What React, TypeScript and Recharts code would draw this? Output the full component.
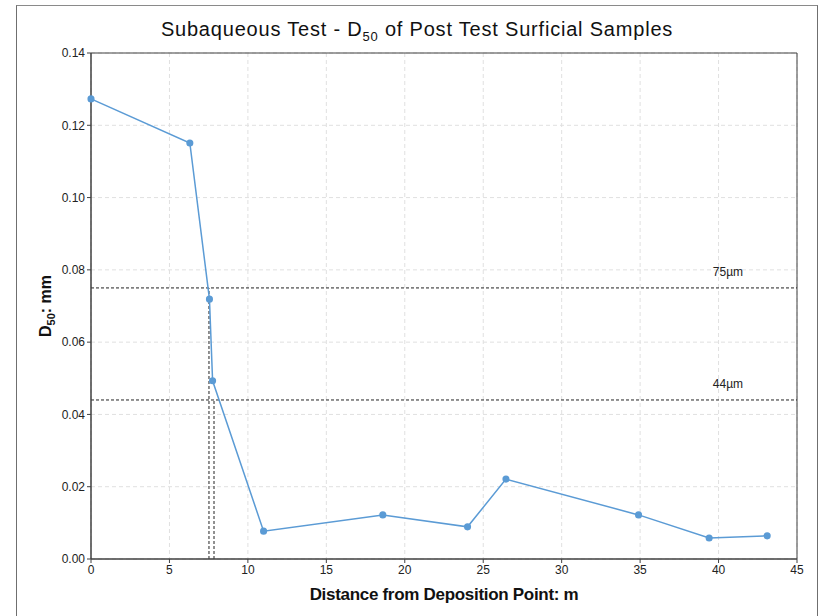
import { LineChart, Line, XAxis, YAxis, CartesianGrid, ReferenceLine } from 'recharts'

const BLUE = '#5B9BD5'
const AXIS = '#404040'
const FONT = '"Liberation Sans", Arial, sans-serif'

// distance from deposition point (m) and D50 (mm)
const distance = [0, 6.3, 7.55, 7.75, 11.0, 18.6, 24.0, 26.45, 34.9, 39.4, 43.1]
const d50 = [0.1273, 0.1151, 0.0719, 0.0493, 0.0077, 0.0122, 0.0089, 0.0221, 0.0122, 0.0058, 0.0064]

const xTicks = [0, 5, 10, 15, 20, 25, 30, 35, 40, 45]
const yTicks = [0, 0.02, 0.04, 0.06, 0.08, 0.1, 0.12, 0.14]

// threshold lines (mm) and where the curve crosses them (m)
const thresholds = [0.075, 0.044]
const thresholdLabels = ['75µm', '44µm']
const crossings = [7.52, 7.84]

const data = distance.map((x, i) => ({ x, y: d50[i] }))

function thresholdLabel(text: string) {
  return (props: any) => {
    const vb = props.viewBox || {}
    return (
      <text
        x={vb.x + vb.width - 69}
        y={vb.y - 12}
        textAnchor="middle"
        style={{ fontFamily: FONT, fontSize: 12, fill: '#222' }}
      >
        {text}
      </text>
    )
  }
}

function YLabel() {
  return (
    <text
      x={51}
      y={306}
      transform="rotate(-90 51 306)"
      textAnchor="middle"
      style={{ fontFamily: FONT, fontSize: 16, fontWeight: 700, fill: '#111' }}
    >
      D<tspan fontSize={11} dy={4}>50</tspan>
      <tspan dy={-4}>: mm</tspan>
    </text>
  )
}

export default function App() {
  return (
    <div
      style={{
        position: 'fixed',
        left: 0,
        top: 0,
        width: 819,
        height: 616,
        overflow: 'hidden',
        background: '#fff',
      }}
    >
      <div
        style={{
          position: 'absolute',
          left: 16,
          top: 18,
          width: 802,
          textAlign: 'center',
          fontFamily: FONT,
          fontSize: 20,
          letterSpacing: 0.8,
          color: '#111',
        }}
      >
        Subaqueous Test - D<sub style={{ fontSize: 13 }}>50</sub> of Post Test Surficial Samples
      </div>
      <div style={{ position: 'absolute', left: 0, top: 0 }}>
        <LineChart
          width={819}
          height={616}
          data={data}
          margin={{ top: 53, right: 22, bottom: 27, left: 31 }}
        >
          <CartesianGrid stroke="#E0E0E0" strokeDasharray="4 3" />
          <XAxis
            type="number"
            dataKey="x"
            domain={[0, 45]}
            ticks={xTicks}
            height={30}
            tick={{ fontSize: 12, fill: '#222', fontFamily: FONT }}
            axisLine={{ stroke: AXIS, strokeWidth: 1.5 }}
            tickLine={{ stroke: AXIS }}
            tickSize={4}
            label={{
              value: 'Distance from Deposition Point: m',
              position: 'insideBottom',
              offset: -11,
              style: { fontFamily: FONT, fontSize: 17, fontWeight: 700, fill: '#111', letterSpacing: -0.3 },
            }}
          />
          <YAxis
            type="number"
            domain={[0, 0.14]}
            ticks={yTicks}
            width={60}
            tickFormatter={(v: number) => v.toFixed(2)}
            tick={{ fontSize: 12, fill: '#222', fontFamily: FONT }}
            axisLine={{ stroke: AXIS, strokeWidth: 1.5 }}
            tickLine={{ stroke: AXIS }}
            tickSize={4}
            label={<YLabel />}
          />
          <ReferenceLine y={0.14} stroke={AXIS} strokeWidth={1} />
          <ReferenceLine x={45} stroke={AXIS} strokeWidth={1} />
          {thresholds.map((t, i) => (
            <ReferenceLine
              key={'h' + i}
              y={t}
              stroke="#222"
              strokeDasharray="3 2"
              label={thresholdLabel(thresholdLabels[i])}
            />
          ))}
          {crossings.map((c, i) => (
            <ReferenceLine
              key={'v' + i}
              segment={[
                { x: c, y: 0 },
                { x: c, y: thresholds[i] },
              ]}
              stroke="#222"
              strokeDasharray="3 2"
            />
          ))}
          <Line
            type="linear"
            dataKey="y"
            stroke={BLUE}
            strokeWidth={1.5}
            dot={{ r: 2.8, fill: BLUE, stroke: BLUE }}
            isAnimationActive={false}
          />
        </LineChart>
      </div>
      <div
        style={{
          position: 'absolute',
          left: 16,
          top: 5,
          width: 802,
          height: 700,
          borderLeft: '1px solid #6f6f6f',
          borderTop: '1px solid #8a8a8a',
          borderRight: '1px solid #6f6f6f',
          boxSizing: 'border-box',
          pointerEvents: 'none',
        }}
      />
    </div>
  )
}
